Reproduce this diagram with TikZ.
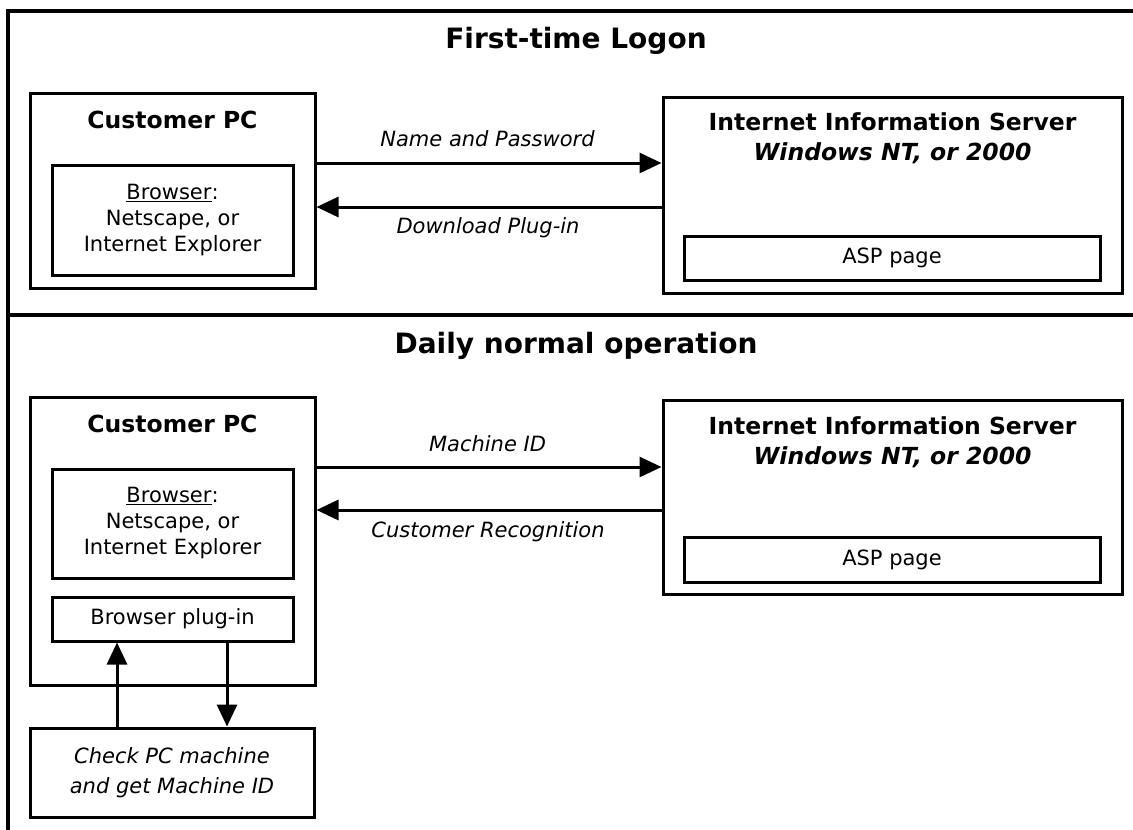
\documentclass[tikz,border=0pt]{standalone}
\usepackage{fontspec}
\setmainfont{DejaVu Sans}
\usetikzlibrary{arrows.meta}
\tikzset{
  box/.style={draw, line width=3pt, inner sep=0pt, align=center},
  frameline/.style={line width=3.5pt},
  arr/.style={line width=3pt, -{Triangle[length=22pt,width=20pt]}},
  hdr/.style={font=\fontsize{23.5}{30}\selectfont\bfseries, anchor=base, inner sep=0pt, align=center},
  ttl/.style={font=\fontsize{28}{32}\selectfont\bfseries, anchor=base, inner sep=0pt},
  txt/.style={font=\fontsize{21}{26}\selectfont},
  lbl/.style={font=\fontsize{21}{26}\selectfont\itshape, anchor=base, inner sep=0pt},
}
\begin{document}
\begin{tikzpicture}[x=1pt,y=-1pt]
\useasboundingbox (0,0) rectangle (1133,830);
% frame
\draw[frameline] (1133,11) -- (8,11) -- (8,830);
\draw[frameline] (8,315) -- (1133,315);
% titles
\node[ttl] (t1) at (576,48) {First-time Logon};
\node[ttl] (t2) at (576,353) {Daily normal operation};

% ---------- top section
\node[box, minimum width=285pt, minimum height=195pt] (cpc1) at (172.5,190.5) {};
\node[hdr] (cpc1t) at (172.5,128) {Customer PC};
\node[box, txt, minimum width=241pt, minimum height=110pt] (br1) at (172.5,220)
  {\underline{Browser}:\\Netscape, or\\Internet Explorer};
\node[box, minimum width=459pt, minimum height=196pt] (srv1) at (892.5,195) {};
\node[hdr] (srv1t) at (892.5,160.7) {Internet Information Server\\\itshape Windows NT, or 2000};
\node[box, txt, minimum width=416pt, minimum height=44pt] (asp1) at (892,258) {ASP page};
\draw[arr] (cpc1.east |- 0,163) -- (srv1.west |- 0,163);
\draw[arr] (srv1.west |- 0,207) -- (cpc1.east |- 0,207);
\node[lbl] (l1) at (487.5,146.7) {Name and Password};
\node[lbl] (l2) at (488,233) {Download Plug-in};

% ---------- bottom section
\node[box, minimum width=285pt, minimum height=288pt] (cpc2) at (172.5,541) {};
\node[hdr] (cpc2t) at (172.5,432) {Customer PC};
\node[box, txt, minimum width=241pt, minimum height=109pt] (br2) at (172.5,523.5)
  {\underline{Browser}:\\Netscape, or\\Internet Explorer};
\node[box, txt, minimum width=241pt, minimum height=44pt] (plug) at (172.5,619) {Browser plug-in};
\node[box, txt, font=\fontsize{21}{30}\selectfont\itshape, minimum width=284pt, minimum height=89pt] (chk) at (172,772.5)
  {Check PC machine\\and get Machine ID};
\draw[arr] (chk.north -| 117,0) -- (plug.south -| 117,0);
\draw[arr] (plug.south -| 227,0) -- (chk.north -| 227,0);
\node[box, minimum width=459pt, minimum height=194pt] (srv2) at (892.5,497) {};
\node[hdr] (srv2t) at (892.5,464.7) {Internet Information Server\\\itshape Windows NT, or 2000};
\node[box, txt, minimum width=416pt, minimum height=45pt] (asp2) at (892,559.5) {ASP page};
\draw[arr] (cpc2.east |- 0,467) -- (srv2.west |- 0,467);
\draw[arr] (srv2.west |- 0,510) -- (cpc2.east |- 0,510);
\node[lbl] (l3) at (487.5,451) {Machine ID};
\node[lbl] (l4) at (488,537) {Customer Recognition};
\end{tikzpicture}
\end{document}
